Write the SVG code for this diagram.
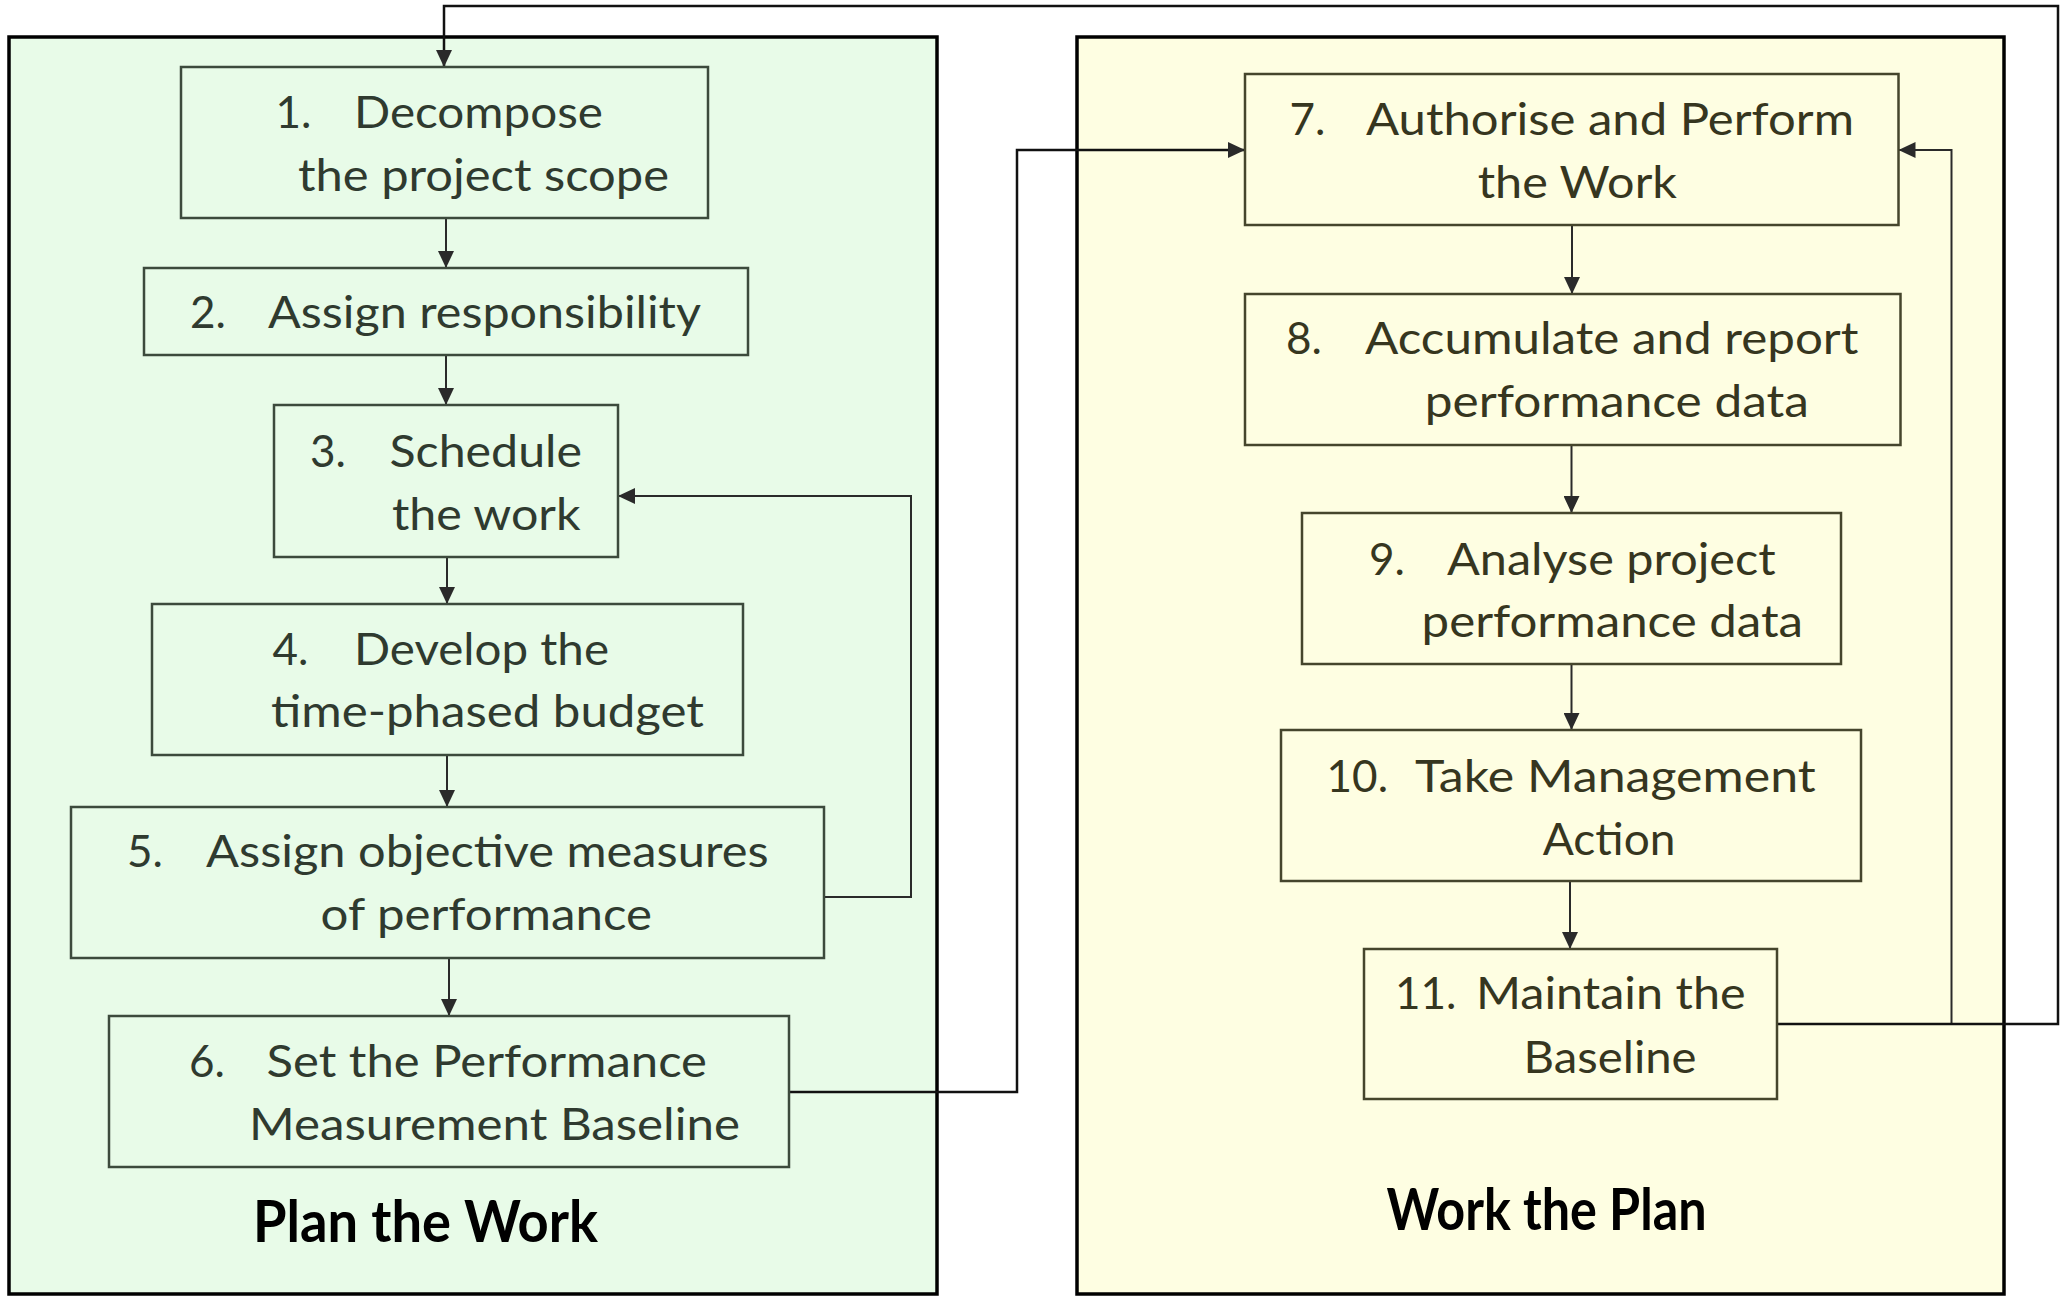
<svg xmlns="http://www.w3.org/2000/svg" width="2060" height="1296" viewBox="0 0 2060 1296">
<style>
.panelL{fill:#e8fbe8;stroke:#000;stroke-width:3.5}
.panelR{fill:#fefee2;stroke:#000;stroke-width:3.5}
.boxL{fill:none;stroke:#3c4a3c;stroke-width:2.5}
.boxR{fill:none;stroke:#45452c;stroke-width:2.5}
.tL{font-family:Lato,"Liberation Sans",sans-serif;font-size:44px;fill:#2f3a2f}
.tR{font-family:Lato,"Liberation Sans",sans-serif;font-size:44px;fill:#36361f}
.title{font-family:Lato,"Liberation Sans",sans-serif;font-size:58px;font-weight:bold;fill:#000}
.conn{fill:none;stroke:#2a2a2a;stroke-width:2}
.outer{fill:none;stroke:#111;stroke-width:2.5}
</style>
<defs>
<marker id="ah" viewBox="0 0 17 16" refX="17" refY="8" markerWidth="17" markerHeight="16" markerUnits="userSpaceOnUse" orient="auto">
<path d="M0,0 L17,8 L0,16 z" fill="#2a2a2a"/>
</marker>
</defs>
<rect width="2060" height="1296" fill="#fff"/>
<g id="panel-plan">
<rect class="panelL" x="9" y="37" width="928" height="1257"/>
<text class="title" x="253" y="1242" textLength="345" lengthAdjust="spacingAndGlyphs">Plan the Work</text>
</g>
<g id="panel-work">
<rect class="panelR" x="1077" y="37" width="927" height="1257"/>
<text class="title" x="1386.5" y="1230" textLength="320" lengthAdjust="spacingAndGlyphs">Work the Plan</text>
</g>
<g id="connectors">
<line class="conn" x1="446" y1="218" x2="446" y2="268" marker-end="url(#ah)"/>
<line class="conn" x1="446" y1="355" x2="446" y2="405" marker-end="url(#ah)"/>
<line class="conn" x1="447" y1="557" x2="447" y2="604" marker-end="url(#ah)"/>
<line class="conn" x1="447" y1="755" x2="447" y2="807" marker-end="url(#ah)"/>
<line class="conn" x1="449" y1="958" x2="449" y2="1016" marker-end="url(#ah)"/>
<polyline class="conn" points="824,897 911,897 911,496 618,496" marker-end="url(#ah)"/>
<polyline class="outer" points="789,1092 1017,1092 1017,150 1245,150" marker-end="url(#ah)"/>
<line class="conn" x1="1572" y1="225" x2="1572" y2="294" marker-end="url(#ah)"/>
<line class="conn" x1="1571.5" y1="445" x2="1571.5" y2="513" marker-end="url(#ah)"/>
<line class="conn" x1="1571.5" y1="664" x2="1571.5" y2="730" marker-end="url(#ah)"/>
<line class="conn" x1="1570" y1="881" x2="1570" y2="949" marker-end="url(#ah)"/>
<polyline class="conn" points="1951.5,1024 1951.5,150 1898.5,150" marker-end="url(#ah)"/>
<polyline class="outer" points="1777,1024 2058,1024 2058,6 444,6 444,67" marker-end="url(#ah)"/>
</g>
<g id="node1">
<rect class="boxL" x="181" y="67" width="527" height="151"/>
<text class="tL" x="275.5" y="128">1.</text>
<text class="tL" x="354" y="128" textLength="249" lengthAdjust="spacingAndGlyphs">Decompose</text>
<text class="tL" x="298" y="191" textLength="371" lengthAdjust="spacingAndGlyphs">the project scope</text>
</g>
<g id="node2">
<rect class="boxL" x="144" y="268" width="604" height="87"/>
<text class="tL" x="190" y="328">2.</text>
<text class="tL" x="268" y="328" textLength="433" lengthAdjust="spacingAndGlyphs">Assign responsibility</text>
</g>
<g id="node3">
<rect class="boxL" x="274" y="405" width="344" height="152"/>
<text class="tL" x="310" y="467">3.</text>
<text class="tL" x="389.5" y="467" textLength="192.5" lengthAdjust="spacingAndGlyphs">Schedule</text>
<text class="tL" x="392" y="530" textLength="188.5" lengthAdjust="spacingAndGlyphs">the work</text>
</g>
<g id="node4">
<rect class="boxL" x="152" y="604" width="591" height="151"/>
<text class="tL" x="272.5" y="665">4.</text>
<text class="tL" x="354" y="665" textLength="255" lengthAdjust="spacingAndGlyphs">Develop the</text>
<text class="tL" x="271" y="727" textLength="433" lengthAdjust="spacingAndGlyphs">time-phased budget</text>
</g>
<g id="node5">
<rect class="boxL" x="71" y="807" width="753" height="151"/>
<text class="tL" x="127" y="867">5.</text>
<text class="tL" x="206" y="867" textLength="562.5" lengthAdjust="spacingAndGlyphs">Assign objective measures</text>
<text class="tL" x="320.6" y="930" textLength="331.4" lengthAdjust="spacingAndGlyphs">of performance</text>
</g>
<g id="node6">
<rect class="boxL" x="109" y="1016" width="680" height="151"/>
<text class="tL" x="189" y="1077">6.</text>
<text class="tL" x="266.6" y="1077" textLength="440.4" lengthAdjust="spacingAndGlyphs">Set the Performance</text>
<text class="tL" x="249" y="1140" textLength="491" lengthAdjust="spacingAndGlyphs">Measurement Baseline</text>
</g>
<g id="node7">
<rect class="boxR" x="1245" y="74" width="653.5" height="151"/>
<text class="tR" x="1289.6" y="135">7.</text>
<text class="tR" x="1366" y="135" textLength="488" lengthAdjust="spacingAndGlyphs">Authorise and Perform</text>
<text class="tR" x="1477.7" y="198" textLength="199.3" lengthAdjust="spacingAndGlyphs">the Work</text>
</g>
<g id="node8">
<rect class="boxR" x="1245" y="294" width="655.5" height="151"/>
<text class="tR" x="1286" y="354">8.</text>
<text class="tR" x="1365" y="354" textLength="493.5" lengthAdjust="spacingAndGlyphs">Accumulate and report</text>
<text class="tR" x="1424.8" y="417" textLength="384" lengthAdjust="spacingAndGlyphs">performance data</text>
</g>
<g id="node9">
<rect class="boxR" x="1302" y="513" width="539" height="151"/>
<text class="tR" x="1369" y="575">9.</text>
<text class="tR" x="1447" y="575" textLength="328.6" lengthAdjust="spacingAndGlyphs">Analyse project</text>
<text class="tR" x="1421.6" y="637" textLength="381.4" lengthAdjust="spacingAndGlyphs">performance data</text>
</g>
<g id="node10">
<rect class="boxR" x="1281" y="730" width="580" height="151"/>
<text class="tR" x="1326.6" y="792">10.</text>
<text class="tR" x="1415" y="792" textLength="400.7" lengthAdjust="spacingAndGlyphs">Take Management</text>
<text class="tR" x="1542.8" y="855" textLength="132.6" lengthAdjust="spacingAndGlyphs">Action</text>
</g>
<g id="node11">
<rect class="boxR" x="1364" y="949" width="413" height="150"/>
<text class="tR" x="1395" y="1009">11.</text>
<text class="tR" x="1476" y="1009" textLength="269.6" lengthAdjust="spacingAndGlyphs">Maintain the</text>
<text class="tR" x="1523.6" y="1073" textLength="173" lengthAdjust="spacingAndGlyphs">Baseline</text>
</g>
</svg>
